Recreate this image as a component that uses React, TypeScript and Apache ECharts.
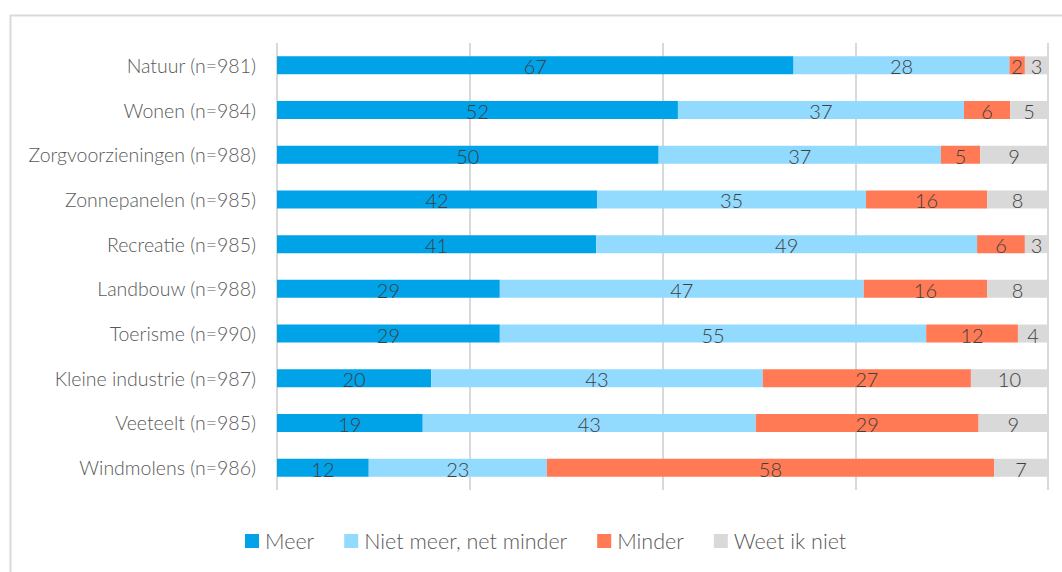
import React, { useEffect, useRef } from "react";
import * as echarts from "echarts";

const categories = [
  "Natuur (n=981)",
  "Wonen (n=984)",
  "Zorgvoorzieningen (n=988)",
  "Zonnepanelen (n=985)",
  "Recreatie (n=985)",
  "Landbouw (n=988)",
  "Toerisme (n=990)",
  "Kleine industrie (n=987)",
  "Veeteelt (n=985)",
  "Windmolens (n=986)",
];

const meer = [67, 52, 49.5, 41.5, 41.4, 28.9, 28.9, 20.0, 18.9, 11.9];
const nietMeer = [28, 37.1, 36.6, 34.9, 49.4, 47.2, 55.3, 43.0, 43.2, 23.1];
const minder = [2, 6, 5.1, 15.7, 6.2, 16.0, 11.9, 27.0, 28.9, 58.0];
const weetNiet = [3, 4.9, 8.8, 7.9, 3.0, 7.9, 3.9, 10.0, 9.0, 7.0];

const seriesNames = ["Meer", "Niet meer, net minder", "Minder", "Weet ik niet"];
const seriesColors = ["#00a2e8", "#93daff", "#ff7a55", "#d9d9d9"];

const FONT = "Lato";

export default function App() {
  const ref = useRef<HTMLDivElement>(null);
  useEffect(() => {
    document.body.style.margin = "0";
    const chart = echarts.init(ref.current!, null, { renderer: "svg" });
    const dataSets = [meer, nietMeer, minder, weetNiet];
    chart.setOption({
      animation: false,
      backgroundColor: "#ffffff",
      textStyle: { fontFamily: FONT },
      graphic: [
        {
          type: "rect",
          left: 8,
          top: 13,
          shape: { width: 1200, height: 700 },
          style: { fill: "none", stroke: "#d9d9d9", lineWidth: 2 },
          z: -10,
        },
      ],
      grid: { left: 277, right: 14, top: 43, height: 447, containLabel: false },
      legend: {
        bottom: 15,
        left: 240,
        itemWidth: 14,
        itemHeight: 14,
        itemGap: 30,
        icon: "rect",
        textStyle: { fontFamily: FONT, fontSize: 21.5, fontWeight: 300, color: "#595959", padding: [0, 0, 0, 1] },
        data: seriesNames,
      },
      xAxis: {
        type: "value",
        min: 0,
        max: 100,
        interval: 25,
        axisLabel: { show: false },
        axisTick: { show: false },
        axisLine: { show: false },
        splitLine: { lineStyle: { color: "#d9d9d9", width: 2 } },
      },
      yAxis: {
        type: "category",
        inverse: true,
        data: categories,
        axisTick: { show: false },
        axisLine: { show: false },
        axisLabel: {
          margin: 21,
          fontFamily: FONT,
          fontSize: 19.5,
          fontWeight: 300,
          color: "#595959",
        },
      },
      series: seriesNames.map((name, i) => ({
        name,
        type: "bar",
        stack: "total",
        barWidth: 18,
        itemStyle: { color: seriesColors[i] },
        label: {
          show: true,
          position: "inside",
          offset: [0, 1],
          fontFamily: FONT,
          fontSize: 20,
          fontWeight: 300,
          color: "#404040",
          formatter: (p: any) => String(Math.round(p.value)),
        },
        data: dataSets[i],
      })),
    });
    return () => chart.dispose();
  }, []);
  return <div ref={ref} style={{ width: 1062, height: 572 }} />;
}
